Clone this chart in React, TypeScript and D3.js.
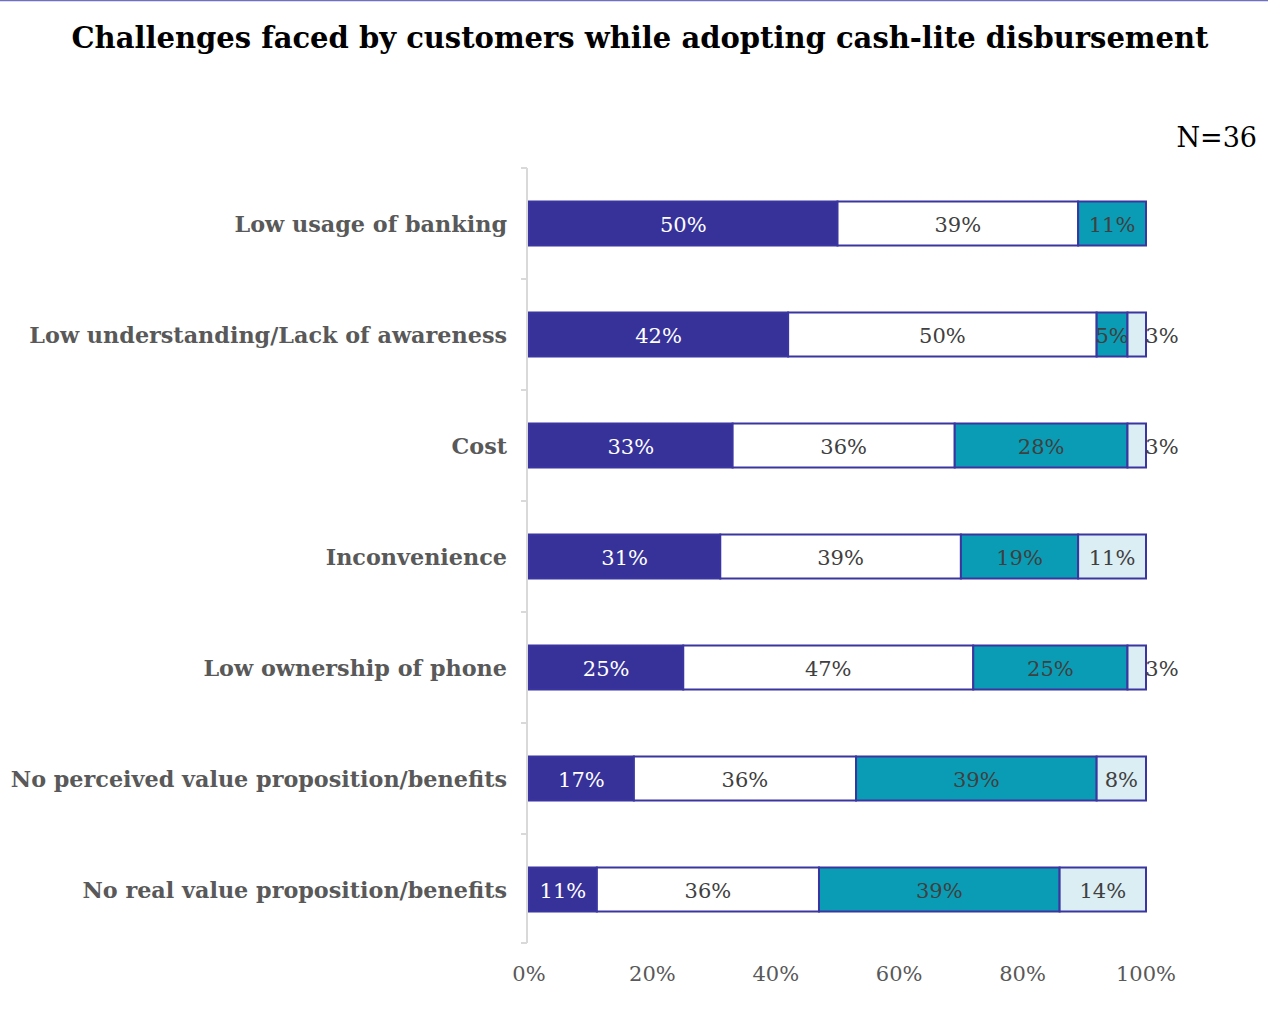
import React, { useEffect, useRef } from "react";
import * as d3 from "d3";

const categories = [
  "Low usage of banking",
  "Low understanding/Lack of awareness",
  "Cost",
  "Inconvenience",
  "Low ownership of phone",
  "No perceived value proposition/benefits",
  "No real value proposition/benefits",
];
const seriesA = [50, 42, 33, 31, 25, 17, 11];
const seriesB = [39, 50, 36, 39, 47, 36, 36];
const seriesC = [11, 5, 28, 19, 25, 39, 39];
const seriesD = [0, 3, 3, 11, 3, 8, 14];
const xTicks = [0, 20, 40, 60, 80, 100];

const fills = ["#36329a", "#ffffff", "#0a9cb4", "#dbeef4"];
const labelColors = ["#ffffff", "#404040", "#404040", "#404040"];

const W = 1268;
const H = 1016;
const FONT = "'DejaVu Serif', serif";

export default function App() {
  const ref = useRef<SVGSVGElement>(null);

  useEffect(() => {
    const svg = d3.select(ref.current);
    svg.selectAll("*").remove();

    const x = d3.scaleLinear().domain([0, 100]).range([529, 1146]);
    const band = d3.scaleBand().domain(categories).range([168, 945]);

    svg.append("line").attr("x1", 0).attr("x2", W).attr("y1", 0.5).attr("y2", 0.5)
      .attr("stroke", "#7070c0").attr("stroke-width", 1.5);

    svg.append("text").attr("x", 640).attr("y", 48).attr("text-anchor", "middle")
      .attr("font-family", FONT).attr("font-weight", "bold").attr("font-size", 29)
      .attr("fill", "#000").text("Challenges faced by customers while adopting cash-lite disbursement");

    svg.append("text").attr("x", 1257).attr("y", 147).attr("text-anchor", "end")
      .attr("font-family", FONT).attr("font-size", 27).attr("fill", "#000").text("N=36");

    // axis
    const axisX = 527;
    svg.append("line").attr("x1", axisX).attr("x2", axisX).attr("y1", 168).attr("y2", 943)
      .attr("stroke", "#d9d9d9").attr("stroke-width", 2);
    const bounds = categories.map((c) => band(c) as number).concat([943]);
    bounds.forEach((b) => {
      svg.append("line").attr("x1", axisX - 6).attr("x2", axisX).attr("y1", b).attr("y2", b)
        .attr("stroke", "#d9d9d9").attr("stroke-width", 2);
    });

    xTicks.forEach((t) => {
      svg.append("text").attr("x", x(t)).attr("y", 981).attr("text-anchor", "middle")
        .attr("font-family", FONT).attr("font-size", 21).attr("fill", "#595959").text(t + "%");
    });

    const series = [seriesA, seriesB, seriesC, seriesD];
    const bh = 44;
    categories.forEach((c, i) => {
      const cy = (band(c) as number) + band.bandwidth() / 2;
      svg.append("text").attr("x", 507).attr("y", cy + 8).attr("text-anchor", "end")
        .attr("font-family", FONT).attr("font-weight", "bold").attr("font-size", 22.3)
        .attr("fill", "#595959").text(c);
      let acc = 0;
      series.forEach((s, k) => {
        const v = s[i];
        if (v <= 0) return;
        const x0 = x(acc);
        const x1 = x(acc + v);
        svg.append("rect").attr("x", x0).attr("y", cy - bh / 2).attr("width", x1 - x0).attr("height", bh)
          .attr("fill", fills[k]).attr("stroke", "#3a35a0").attr("stroke-width", 2);
        const small = v <= 3;
        svg.append("text")
          .attr("x", small ? x1 + 16 : (x0 + x1) / 2)
          .attr("y", cy + 8).attr("text-anchor", "middle")
          .attr("font-family", FONT).attr("font-size", 21)
          .attr("fill", labelColors[k]).text(v + "%");
        acc += v;
      });
    });
  }, []);

  return (
    <svg ref={ref} width={W} height={H} style={{ position: "absolute", left: 0, top: 0, background: "#fff" }} />
  );
}
